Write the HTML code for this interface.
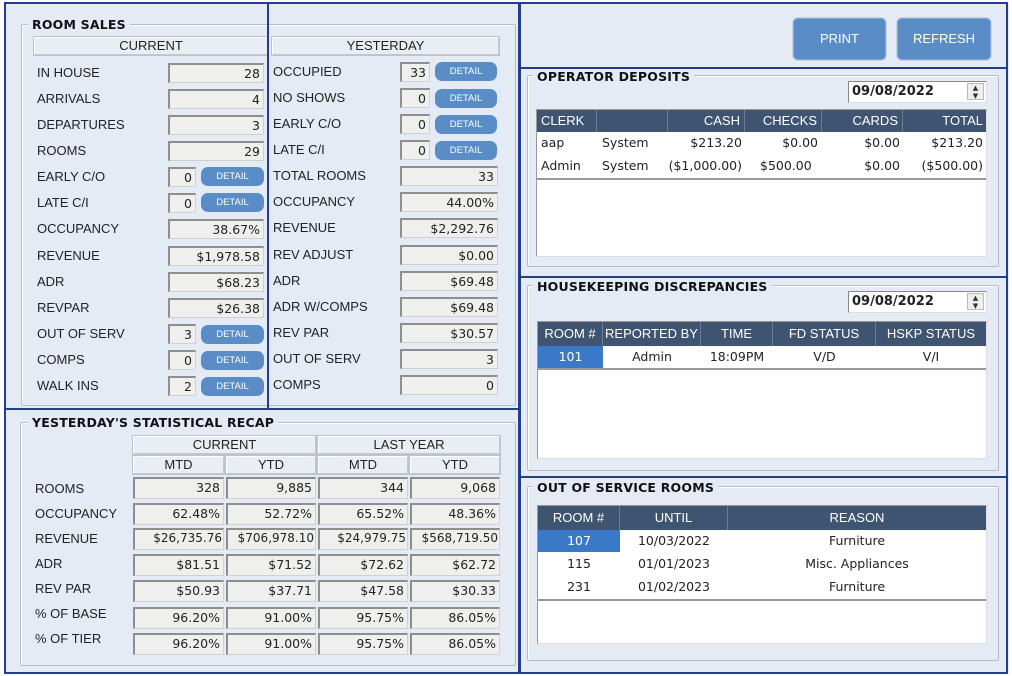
<!DOCTYPE html>
<html><head><meta charset="utf-8"><style>
*{box-sizing:border-box;margin:0;padding:0}
body{width:1012px;height:676px;background:#fff;position:relative;overflow:hidden;font-family:"Liberation Sans",sans-serif;font-size:13px;color:#222}
.a{position:absolute}
.bg{background:#e4ebf4}
.blue{position:absolute;border:2px solid #233f8c}
.grp{position:absolute;border:1px solid #b4bcc8;border-radius:2px;box-shadow:1px 1px 0 #fff inset}
.ttl{position:absolute;font-weight:bold;color:#111;background:#e4ebf4;padding:0 4px;font-family:"DejaVu Sans","Liberation Sans",sans-serif;font-size:12.5px;letter-spacing:0.2px}
.hdr{position:absolute;border:1px solid #c2c8d0;border-top-color:#fff;border-left-color:#fff;background:#e9eef4;text-align:center;line-height:16px;font-size:13px;box-shadow:0 0 0 1px #bcc3cc}
.lb{position:absolute;font-size:13px;line-height:16px}
.in{position:absolute;height:20px;background:#efefed;border:1px solid #d0d0d0;border-top:2px solid #8e8e8e;border-left:2px solid #8e8e8e;text-align:right;padding-right:3px;line-height:17px;font-family:"DejaVu Sans",sans-serif;font-size:12.5px}
.dt{position:absolute;height:19px;background:#5a8dc6;border-radius:7px;color:#fff;font-size:9.5px;text-align:center;line-height:19px}
.btn{position:absolute;background:#5a8cc5;border:1px solid #7fa6d4;border-radius:5px;color:#fff;text-align:center;font-size:13px;box-shadow:0 0 1px #3a6aa5}
.tbl{position:absolute;background:#fff;border:1px solid #999;border-right-color:#ddd;border-bottom-color:#ddd}
.th{position:absolute;background:#3e5471;color:#fff;font-size:13px;height:22px;line-height:22px;border-right:1px solid #6a7d96}
.td{position:absolute;font-family:"DejaVu Sans",sans-serif;font-size:12.5px;line-height:20px;white-space:nowrap;overflow:hidden}
.date{position:absolute;background:#fff;border:1px solid #888;border-right-color:#ddd;border-bottom-color:#ddd;font-family:"DejaVu Sans",sans-serif;font-weight:bold;font-size:13px;line-height:19px;padding-left:3px}
.spin{position:absolute;right:2px;top:1px;width:17px;height:17px;border:1px solid #bbb;background:#eee;font-size:7px;line-height:8px;text-align:center;font-weight:normal;color:#333}
</style></head><body>
<div class="a bg" style="left:4px;top:2px;width:1005px;height:672px"></div>

<div class="grp" style="left:21px;top:24px;width:495px;height:382px"></div>
<div class="ttl" style="left:28px;top:17px">ROOM SALES</div>
<div class="hdr" style="left:34px;top:37px;width:234px;height:18px">CURRENT</div>
<div class="hdr" style="left:272px;top:37px;width:227px;height:18px">YESTERDAY</div>

<div class="lb" style="left:37px;top:65px">IN HOUSE</div><div class="in" style="left:168px;top:63px;width:96px">28</div>
<div class="lb" style="left:37px;top:91px">ARRIVALS</div><div class="in" style="left:168px;top:89px;width:96px">4</div>
<div class="lb" style="left:37px;top:117px">DEPARTURES</div><div class="in" style="left:168px;top:115px;width:96px">3</div>
<div class="lb" style="left:37px;top:143px">ROOMS</div><div class="in" style="left:168px;top:141px;width:96px">29</div>
<div class="lb" style="left:37px;top:169px">EARLY C/O</div><div class="in" style="left:168px;top:167px;width:28px">0</div><div class="dt" style="left:201px;top:167px;width:63px">DETAIL</div>
<div class="lb" style="left:37px;top:195px">LATE C/I</div><div class="in" style="left:168px;top:193px;width:28px">0</div><div class="dt" style="left:201px;top:193px;width:63px">DETAIL</div>
<div class="lb" style="left:37px;top:221px">OCCUPANCY</div><div class="in" style="left:168px;top:219px;width:96px">38.67%</div>
<div class="lb" style="left:37px;top:248px">REVENUE</div><div class="in" style="left:168px;top:246px;width:96px">$1,978.58</div>
<div class="lb" style="left:37px;top:274px">ADR</div><div class="in" style="left:168px;top:272px;width:96px">$68.23</div>
<div class="lb" style="left:37px;top:300px">REVPAR</div><div class="in" style="left:168px;top:298px;width:96px">$26.38</div>
<div class="lb" style="left:37px;top:326px">OUT OF SERV</div><div class="in" style="left:168px;top:324px;width:28px">3</div><div class="dt" style="left:201px;top:325px;width:63px">DETAIL</div>
<div class="lb" style="left:37px;top:352px">COMPS</div><div class="in" style="left:168px;top:350px;width:28px">0</div><div class="dt" style="left:201px;top:351px;width:63px">DETAIL</div>
<div class="lb" style="left:37px;top:378px">WALK INS</div><div class="in" style="left:168px;top:376px;width:28px">2</div><div class="dt" style="left:201px;top:377px;width:63px">DETAIL</div>

<div class="lb" style="left:273px;top:64px">OCCUPIED</div><div class="in" style="left:400px;top:62px;width:30px">33</div><div class="dt" style="left:435px;top:62px;width:62px">DETAIL</div>
<div class="lb" style="left:273px;top:90px">NO SHOWS</div><div class="in" style="left:400px;top:88px;width:30px">0</div><div class="dt" style="left:435px;top:89px;width:62px">DETAIL</div>
<div class="lb" style="left:273px;top:116px">EARLY C/O</div><div class="in" style="left:400px;top:114px;width:30px">0</div><div class="dt" style="left:435px;top:115px;width:62px">DETAIL</div>
<div class="lb" style="left:273px;top:142px">LATE C/I</div><div class="in" style="left:400px;top:140px;width:30px">0</div><div class="dt" style="left:435px;top:141px;width:62px">DETAIL</div>
<div class="lb" style="left:273px;top:168px">TOTAL ROOMS</div><div class="in" style="left:400px;top:166px;width:98px">33</div>
<div class="lb" style="left:273px;top:194px">OCCUPANCY</div><div class="in" style="left:400px;top:192px;width:98px">44.00%</div>
<div class="lb" style="left:273px;top:220px">REVENUE</div><div class="in" style="left:400px;top:218px;width:98px">$2,292.76</div>
<div class="lb" style="left:273px;top:247px">REV ADJUST</div><div class="in" style="left:400px;top:245px;width:98px">$0.00</div>
<div class="lb" style="left:273px;top:273px">ADR</div><div class="in" style="left:400px;top:271px;width:98px">$69.48</div>
<div class="lb" style="left:273px;top:299px">ADR W/COMPS</div><div class="in" style="left:400px;top:297px;width:98px">$69.48</div>
<div class="lb" style="left:273px;top:325px">REV PAR</div><div class="in" style="left:400px;top:323px;width:98px">$30.57</div>
<div class="lb" style="left:273px;top:351px">OUT OF SERV</div><div class="in" style="left:400px;top:349px;width:98px">3</div>
<div class="lb" style="left:273px;top:377px">COMPS</div><div class="in" style="left:400px;top:375px;width:98px">0</div>

<div class="grp" style="left:20px;top:422px;width:496px;height:244px"></div>
<div class="ttl" style="left:28px;top:415px">YESTERDAY'S STATISTICAL RECAP</div>
<div class="hdr" style="left:133px;top:436px;width:183px;height:18px">CURRENT</div>
<div class="hdr" style="left:318px;top:436px;width:182px;height:18px">LAST YEAR</div>
<div class="hdr" style="left:133px;top:456px;width:91px;height:18px">MTD</div>
<div class="hdr" style="left:226px;top:456px;width:90px;height:18px">YTD</div>
<div class="hdr" style="left:318px;top:456px;width:90px;height:18px">MTD</div>
<div class="hdr" style="left:410px;top:456px;width:90px;height:18px">YTD</div>

<div class="lb" style="left:35px;top:481px">ROOMS</div>
<div class="in" style="left:133px;top:477px;width:91px;height:22px">328</div><div class="in" style="left:226px;top:477px;width:90px;height:22px">9,885</div><div class="in" style="left:318px;top:477px;width:90px;height:22px">344</div><div class="in" style="left:410px;top:477px;width:90px;height:22px">9,068</div>
<div class="lb" style="left:35px;top:506px">OCCUPANCY</div>
<div class="in" style="left:133px;top:503px;width:91px;height:22px">62.48%</div><div class="in" style="left:226px;top:503px;width:90px;height:22px">52.72%</div><div class="in" style="left:318px;top:503px;width:90px;height:22px">65.52%</div><div class="in" style="left:410px;top:503px;width:90px;height:22px">48.36%</div>
<div class="lb" style="left:35px;top:531px">REVENUE</div>
<div class="in" style="left:133px;top:528px;width:91px;height:22px;font-size:12px;padding-right:1px">$26,735.76</div><div class="in" style="left:226px;top:528px;width:90px;height:22px;font-size:12px;padding-right:1px">$706,978.10</div><div class="in" style="left:318px;top:528px;width:90px;height:22px;font-size:12px;padding-right:1px">$24,979.75</div><div class="in" style="left:410px;top:528px;width:90px;height:22px;font-size:12px;padding-right:1px">$568,719.50</div>
<div class="lb" style="left:35px;top:556px">ADR</div>
<div class="in" style="left:133px;top:554px;width:91px;height:22px">$81.51</div><div class="in" style="left:226px;top:554px;width:90px;height:22px">$71.52</div><div class="in" style="left:318px;top:554px;width:90px;height:22px">$72.62</div><div class="in" style="left:410px;top:554px;width:90px;height:22px">$62.72</div>
<div class="lb" style="left:35px;top:581px">REV PAR</div>
<div class="in" style="left:133px;top:580px;width:91px;height:22px">$50.93</div><div class="in" style="left:226px;top:580px;width:90px;height:22px">$37.71</div><div class="in" style="left:318px;top:580px;width:90px;height:22px">$47.58</div><div class="in" style="left:410px;top:580px;width:90px;height:22px">$30.33</div>
<div class="lb" style="left:35px;top:606px">% OF BASE</div>
<div class="in" style="left:133px;top:607px;width:91px;height:22px">96.20%</div><div class="in" style="left:226px;top:607px;width:90px;height:22px">91.00%</div><div class="in" style="left:318px;top:607px;width:90px;height:22px">95.75%</div><div class="in" style="left:410px;top:607px;width:90px;height:22px">86.05%</div>
<div class="lb" style="left:35px;top:631px">% OF TIER</div>
<div class="in" style="left:133px;top:633px;width:91px;height:22px">96.20%</div><div class="in" style="left:226px;top:633px;width:90px;height:22px">91.00%</div><div class="in" style="left:318px;top:633px;width:90px;height:22px">95.75%</div><div class="in" style="left:410px;top:633px;width:90px;height:22px">86.05%</div>

<div class="btn" style="left:793px;top:18px;width:93px;height:42px;line-height:40px">PRINT</div>
<div class="btn" style="left:897px;top:18px;width:94px;height:42px;line-height:40px">REFRESH</div>

<div class="grp" style="left:527px;top:75px;width:472px;height:192px"></div>
<div class="ttl" style="left:533px;top:69px">OPERATOR DEPOSITS</div>
<div class="date" style="left:848px;top:81px;width:139px;height:22px">09/08/2022<div class="spin">▲<br>▼</div></div>
<div class="tbl" style="left:536px;top:109px;width:451px;height:148px"></div>
<div class="th" style="left:537px;top:110px;width:60px;padding-left:4px">CLERK</div>
<div class="th" style="left:597px;top:110px;width:71px">&nbsp;</div>
<div class="th" style="left:668px;top:110px;width:77px;text-align:right;padding-right:4px">CASH</div>
<div class="th" style="left:745px;top:110px;width:77px;text-align:right;padding-right:4px">CHECKS</div>
<div class="th" style="left:822px;top:110px;width:81px;text-align:right;padding-right:4px">CARDS</div>
<div class="th" style="left:903px;top:110px;width:83px;text-align:right;padding-right:3px;border-right:none">TOTAL</div>
<div class="td" style="left:541px;top:133px">aap</div><div class="td" style="left:602px;top:133px">System</div><div class="td" style="left:668px;top:133px;width:74px;text-align:right">$213.20</div><div class="td" style="left:745px;top:133px;width:73px;text-align:right">$0.00</div><div class="td" style="left:822px;top:133px;width:78px;text-align:right">$0.00</div><div class="td" style="left:903px;top:133px;width:80px;text-align:right">$213.20</div>
<div class="td" style="left:541px;top:156px">Admin</div><div class="td" style="left:602px;top:156px">System</div><div class="td" style="left:668px;top:156px;width:74px;text-align:right;direction:rtl">($1,000.00)</div><div class="td" style="left:745px;top:156px;width:73px;text-align:left;padding-left:15px">$500.00</div><div class="td" style="left:822px;top:156px;width:78px;text-align:right">$0.00</div><div class="td" style="left:903px;top:156px;width:80px;text-align:right">($500.00)</div>
<div class="a" style="left:537px;top:178px;width:449px;height:2px;background:#999"></div>

<div class="grp" style="left:527px;top:285px;width:472px;height:186px"></div>
<div class="ttl" style="left:533px;top:279px">HOUSEKEEPING DISCREPANCIES</div>
<div class="date" style="left:848px;top:291px;width:139px;height:22px">09/08/2022<div class="spin">▲<br>▼</div></div>
<div class="tbl" style="left:537px;top:321px;width:450px;height:138px"></div>
<div class="th" style="left:538px;top:322px;width:65px;height:24px;text-align:center;line-height:24px">ROOM #</div>
<div class="th" style="left:603px;top:322px;width:98px;height:24px;text-align:center;line-height:24px">REPORTED BY</div>
<div class="th" style="left:701px;top:322px;width:72px;height:24px;text-align:center;line-height:24px">TIME</div>
<div class="th" style="left:773px;top:322px;width:103px;height:24px;text-align:center;line-height:24px">FD STATUS</div>
<div class="th" style="left:876px;top:322px;width:110px;height:24px;text-align:center;line-height:24px;border-right:none">HSKP STATUS</div>
<div class="a" style="left:538px;top:346px;width:65px;height:22px;background:#3a78c8"></div>
<div class="td" style="left:538px;top:347px;width:65px;text-align:center;color:#fff">101</div>
<div class="td" style="left:603px;top:347px;width:98px;text-align:center">Admin</div>
<div class="td" style="left:701px;top:347px;width:72px;text-align:center">18:09PM</div>
<div class="td" style="left:773px;top:347px;width:103px;text-align:center">V/D</div>
<div class="td" style="left:876px;top:347px;width:110px;text-align:center">V/I</div>
<div class="a" style="left:538px;top:368px;width:448px;height:2px;background:#999"></div>

<div class="grp" style="left:527px;top:486px;width:472px;height:175px"></div>
<div class="ttl" style="left:533px;top:480px">OUT OF SERVICE ROOMS</div>
<div class="tbl" style="left:537px;top:505px;width:450px;height:139px"></div>
<div class="th" style="left:538px;top:506px;width:82px;height:24px;text-align:center;line-height:24px">ROOM #</div>
<div class="th" style="left:620px;top:506px;width:108px;height:24px;text-align:center;line-height:24px">UNTIL</div>
<div class="th" style="left:728px;top:506px;width:258px;height:24px;text-align:center;line-height:24px;border-right:none">REASON</div>
<div class="a" style="left:538px;top:530px;width:82px;height:22px;background:#3a78c8"></div>
<div class="td" style="left:538px;top:531px;width:82px;text-align:center;color:#fff">107</div>
<div class="td" style="left:620px;top:531px;width:108px;text-align:center">10/03/2022</div>
<div class="td" style="left:728px;top:531px;width:258px;text-align:center">Furniture</div>
<div class="td" style="left:538px;top:554px;width:82px;text-align:center">115</div>
<div class="td" style="left:620px;top:554px;width:108px;text-align:center">01/01/2023</div>
<div class="td" style="left:728px;top:554px;width:258px;text-align:center">Misc. Appliances</div>
<div class="td" style="left:538px;top:577px;width:82px;text-align:center">231</div>
<div class="td" style="left:620px;top:577px;width:108px;text-align:center">01/02/2023</div>
<div class="td" style="left:728px;top:577px;width:258px;text-align:center">Furniture</div>
<div class="a" style="left:538px;top:599px;width:448px;height:2px;background:#999"></div>

<div class="blue" style="left:4px;top:2px;width:517px;height:408px"></div>
<div class="a" style="left:267px;top:2px;width:2px;height:408px;background:#233f8c"></div>
<div class="blue" style="left:4px;top:408px;width:517px;height:266px"></div>
<div class="blue" style="left:518px;top:2px;width:490px;height:67px"></div>
<div class="blue" style="left:518px;top:67px;width:490px;height:211px"></div>
<div class="blue" style="left:518px;top:276px;width:490px;height:202px"></div>
<div class="blue" style="left:518px;top:476px;width:490px;height:198px"></div>
</body></html>
